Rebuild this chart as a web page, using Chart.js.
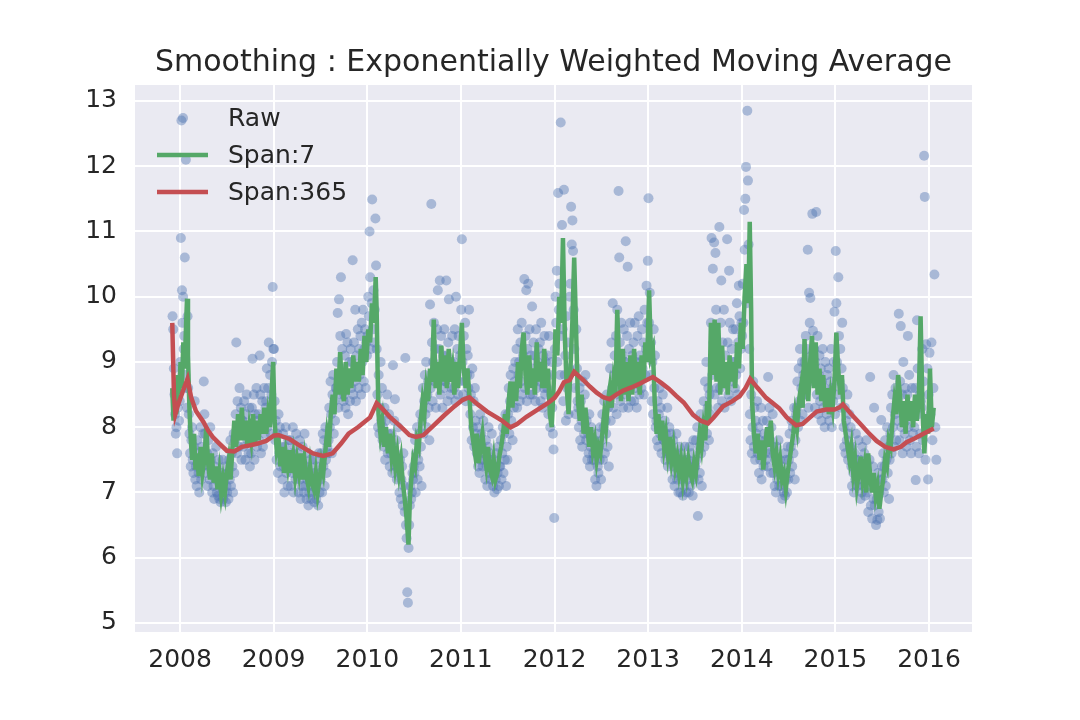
<!DOCTYPE html>
<html>
<head>
<meta charset="utf-8">
<script src="https://cdn.jsdelivr.net/npm/chart.js@4.4.1/dist/chart.umd.min.js"></script>
<style>
  html, body { margin: 0; padding: 0; background: #fff; }
  canvas { display: block; }
</style>
</head>
<body>
<canvas id="chart" width="1080" height="720"></canvas>
<script>
// Title and tick labels
const chartTitle = 'Smoothing : Exponentially Weighted Moving Average';
const xTicks = [2008, 2009, 2010, 2011, 2012, 2013, 2014, 2015, 2016];
const yTicks = [5, 6, 7, 8, 9, 10, 11, 12, 13];

const rawMonths = [
  '2007-12',
  '2008-01','2008-02','2008-03','2008-04','2008-05','2008-06','2008-07','2008-08','2008-09','2008-10','2008-11','2008-12',
  '2009-01','2009-02','2009-03','2009-04','2009-05','2009-06','2009-07','2009-08','2009-09','2009-10','2009-11','2009-12',
  '2010-01','2010-02','2010-03','2010-04','2010-05','2010-06','2010-07','2010-08','2010-09','2010-10','2010-11','2010-12',
  '2011-01','2011-02','2011-03','2011-04','2011-05','2011-06','2011-07','2011-08','2011-09','2011-10','2011-11','2011-12',
  '2012-01','2012-02','2012-03','2012-04','2012-05','2012-06','2012-07','2012-08','2012-09','2012-10','2012-11','2012-12',
  '2013-01','2013-02','2013-03','2013-04','2013-05','2013-06','2013-07','2013-08','2013-09','2013-10','2013-11','2013-12',
  '2014-01','2014-02','2014-03','2014-04','2014-05','2014-06','2014-07','2014-08','2014-09','2014-10','2014-11','2014-12',
  '2015-01','2015-02','2015-03','2015-04','2015-05','2015-06','2015-07','2015-08','2015-09','2015-10','2015-11','2015-12',
  '2016-01'
];
const rawValues = [
  [9.7, 9.5, 8.9, 8.5, 8.2, 7.9, 8.0, 7.6, 8.3, 8.7, 8.1, 8.4],
  [9.0, 10.9, 12.7, 10.1, 9.6, 10.0, 9.2, 9.4, 10.6, 8.8, 12.1, 8.6, 8.3, 9.7],
  [8.6, 8.2, 7.9, 7.6, 7.4, 7.8, 8.0, 7.5, 7.3, 7.7, 8.4, 7.2],
  [7.4, 7.1, 7.8, 7.6, 7.3, 7.0, 7.5, 8.0, 7.2, 7.7, 7.4, 7.9],
  [8.7, 8.2, 7.9, 7.5, 7.3, 7.6, 7.1, 7.8, 7.4, 7.2, 8.0, 7.5],
  [7.3, 7.0, 7.6, 7.1, 6.9, 7.4, 7.2, 7.7, 7.0, 7.3, 6.95, 7.5],
  [6.9, 7.1, 6.85, 7.3, 7.0, 7.5, 6.9, 7.2, 7.0, 7.4, 6.85, 7.1],
  [7.0, 7.3, 6.9, 7.5, 7.2, 7.8, 7.1, 7.6, 7.4, 7.0, 7.9, 7.3],
  [7.8, 8.2, 9.3, 7.6, 8.4, 8.0, 7.7, 8.6, 7.9, 8.3, 7.5, 8.1],
  [8.1, 7.7, 8.4, 7.9, 7.5, 8.2, 8.5, 7.8, 8.0, 7.6, 8.3, 7.4],
  [8.0, 7.6, 8.3, 9.05, 7.8, 8.5, 7.5, 8.2, 7.9, 8.6, 7.7, 8.1],
  [8.2, 7.8, 9.1, 8.5, 7.6, 8.0, 8.4, 7.7, 8.1, 8.6, 7.9, 8.3],
  [8.4, 8.9, 8.0, 8.6, 9.3, 8.2, 8.8, 7.9, 8.5, 9.0, 10.15, 9.2],
  [9.2, 8.4, 7.8, 8.1, 7.5, 7.9, 7.3, 8.2, 7.6, 8.0, 7.4, 7.7],
  [7.6, 7.2, 7.9, 7.4, 7.0, 7.7, 8.0, 7.3, 7.5, 7.1, 7.8, 7.4],
  [7.5, 7.8, 7.1, 7.6, 7.3, 8.0, 7.0, 7.4, 7.7, 7.2, 7.9, 7.5],
  [7.3, 7.6, 7.0, 7.8, 7.2, 6.9, 7.5, 7.1, 7.7, 7.4, 7.0, 7.9],
  [7.1, 7.4, 6.9, 7.2, 7.6, 6.8, 7.0, 7.3, 7.5, 6.9, 7.2, 7.1],
  [7.0, 7.3, 6.85, 7.5, 7.1, 6.9, 7.4, 7.2, 6.8, 7.6, 7.0, 7.3],
  [7.2, 7.6, 7.0, 7.9, 7.4, 7.8, 7.1, 8.0, 7.5, 7.3, 7.7, 7.6],
  [7.8, 8.3, 8.0, 8.7, 8.2, 7.6, 8.5, 8.8, 7.9, 8.4, 8.1, 8.6],
  [8.6, 9.0, 9.75, 8.3, 9.96, 8.8, 9.4, 10.3, 8.5, 9.2, 8.9, 8.4],
  [8.5, 9.1, 8.3, 9.43, 8.8, 9.3, 8.2, 8.7, 9.0, 8.4, 9.2, 8.6],
  [9.0, 10.56, 8.5, 9.3, 8.7, 9.8, 8.4, 9.1, 8.9, 9.5, 8.6, 9.2],
  [8.8, 9.4, 8.5, 9.6, 9.0, 9.8, 8.7, 9.2, 9.5, 8.6, 9.3, 9.1],
  [9.4, 10.0, 9.7, 11.0, 10.3, 9.2, 9.9, 11.49, 9.5, 10.1, 9.3, 9.8],
  [11.2, 10.48, 9.2, 8.5, 8.0, 8.8, 7.9, 8.3, 9.0, 8.1, 8.6, 7.8],
  [8.0, 7.7, 8.3, 7.5, 8.1, 7.8, 8.5, 7.6, 7.9, 8.2, 7.4, 7.7],
  [7.6, 7.9, 7.3, 8.95, 7.7, 8.1, 8.43, 7.4, 7.8, 7.2, 7.5, 8.0],
  [7.3, 7.0, 7.5, 6.9, 7.2, 7.4, 6.8, 7.6, 7.1, 6.7, 9.06, 6.5],
  [6.3, 5.47, 5.31, 6.15, 6.5, 6.8, 7.1, 6.9, 7.0, 7.3, 7.2, 7.4],
  [7.3, 7.8, 7.0, 7.6, 8.0, 7.2, 7.5, 7.9, 7.4, 8.2, 7.7, 7.1],
  [8.1, 8.6, 7.9, 8.4, 8.8, 8.2, 9.0, 8.0, 8.5, 8.7, 8.3, 7.8],
  [9.88, 8.6, 11.42, 9.3, 8.4, 9.0, 9.6, 8.7, 9.2, 8.3, 8.9, 9.5],
  [10.1, 8.8, 9.2, 10.25, 8.5, 9.4, 8.9, 8.3, 9.1, 8.6, 9.5, 8.7],
  [8.7, 10.25, 9.1, 8.4, 9.3, 9.96, 8.9, 8.5, 9.0, 8.6, 9.4, 8.8],
  [9.0, 8.6, 9.5, 8.4, 10.0, 8.8, 9.2, 8.5, 9.4, 8.7, 9.1, 8.9],
  [9.8, 10.88, 9.0, 8.5, 9.4, 8.7, 9.6, 8.4, 9.2, 8.8, 9.1, 8.6],
  [9.8, 8.8, 8.2, 8.5, 7.8, 8.9, 8.0, 8.4, 7.7, 8.6, 8.1, 7.9],
  [7.6, 8.0, 7.4, 7.8, 7.3, 8.2, 7.5, 7.9, 7.7, 7.4, 8.1, 7.6],
  [7.5, 7.2, 7.8, 7.4, 7.1, 7.7, 8.0, 7.3, 7.6, 7.2, 7.5, 7.9],
  [7.3, 7.1, 7.5, 7.0, 7.4, 7.2, 7.6, 7.05, 7.3, 7.7, 7.1, 7.4],
  [7.4, 7.8, 7.2, 7.6, 8.0, 7.3, 7.9, 7.5, 8.2, 7.1, 7.7, 7.5],
  [8.2, 8.6, 7.9, 8.4, 8.8, 8.1, 8.5, 7.8, 8.9, 8.3, 8.7, 9.0],
  [8.6, 9.2, 8.3, 9.5, 8.8, 9.0, 8.4, 9.3, 8.7, 9.6, 8.5, 9.1],
  [9.0, 10.27, 8.6, 9.4, 10.1, 8.4, 9.2, 10.2, 8.8, 9.5, 8.5, 9.1],
  [8.9, 9.85, 8.5, 9.3, 8.7, 9.1, 8.4, 9.5, 8.6, 9.0, 8.8, 9.2],
  [8.7, 9.3, 8.4, 9.6, 8.9, 8.3, 9.1, 8.6, 9.4, 8.5, 9.0, 8.8],
  [8.6, 9.1, 8.2, 9.4, 8.8, 8.0, 8.5, 9.0, 8.3, 7.9, 7.66, 6.61],
  [9.2, 10.0, 9.6, 10.4, 9.0, 11.59, 9.8, 10.2, 8.8, 12.67, 9.4, 11.1],
  [9.5, 8.4, 11.64, 8.8, 9.1, 8.1, 9.7, 8.6, 9.3, 8.2, 8.9, 10.0],
  [10.2, 11.38, 10.8, 11.17, 10.7, 9.8, 9.2, 8.6, 8.2, 9.5, 8.9, 8.4],
  [8.3, 8.0, 8.6, 7.8, 8.4, 8.1, 7.7, 8.7, 8.2, 7.9, 8.5, 8.8],
  [7.8, 8.1, 7.5, 7.9, 7.6, 8.2, 7.4, 7.7, 8.0, 7.5, 7.8, 7.6],
  [7.5, 7.8, 7.2, 7.6, 7.1, 7.9, 7.4, 7.3, 7.7, 7.5, 8.0, 7.2],
  [7.8, 8.2, 7.5, 8.0, 8.4, 7.6, 8.1, 7.9, 8.5, 7.7, 8.3, 7.4],
  [8.4, 8.9, 8.1, 9.3, 8.6, 9.9, 8.3, 8.8, 9.1, 8.5, 9.4, 8.2],
  [9.8, 8.8, 11.62, 10.6, 9.3, 8.4, 9.6, 8.6, 9.1, 8.3, 9.5, 9.0],
  [9.0, 10.85, 8.5, 9.4, 10.46, 8.3, 9.2, 8.7, 9.6, 8.4, 8.9, 9.1],
  [8.8, 9.3, 8.4, 9.6, 8.6, 9.0, 8.3, 9.4, 8.7, 9.7, 8.5, 9.1],
  [9.0, 8.6, 9.5, 8.9, 9.3, 8.5, 9.8, 8.8, 9.2, 10.17, 9.6, 10.55],
  [11.51, 9.6, 10.06, 8.8, 9.3, 8.4, 9.0, 8.2, 9.5, 8.6, 9.1, 8.0],
  [8.1, 7.8, 8.4, 7.7, 8.2, 8.6, 7.9, 8.3, 7.6, 8.0, 8.5, 7.8],
  [7.8, 8.1, 7.5, 7.9, 7.6, 8.3, 7.4, 7.7, 8.0, 7.6, 7.9, 7.5],
  [7.5, 7.2, 7.8, 7.4, 7.1, 7.6, 7.3, 7.9, 7.2, 7.5, 7.0, 7.7],
  [7.3, 7.0, 7.6, 7.2, 7.5, 6.95, 7.4, 7.1, 7.7, 7.3, 7.0, 7.5],
  [7.2, 7.5, 7.0, 7.7, 7.3, 7.1, 7.6, 7.4, 6.95, 7.8, 7.2, 7.4],
  [7.4, 7.8, 7.5, 8.0, 6.64, 7.2, 7.7, 7.3, 8.2, 7.6, 7.1, 7.9],
  [8.0, 8.4, 7.7, 8.7, 8.1, 9.0, 7.9, 8.3, 8.6, 7.8, 8.5, 8.2],
  [9.6, 10.9, 8.8, 10.43, 9.3, 10.83, 8.5, 10.67, 9.8, 8.6, 9.1, 8.3],
  [9.0, 11.07, 8.6, 9.6, 10.25, 8.4, 9.3, 8.8, 9.8, 8.3, 9.1, 8.7],
  [8.8, 10.88, 9.3, 8.5, 10.4, 9.6, 8.9, 8.4, 9.2, 8.7, 9.5, 9.0],
  [9.0, 8.6, 9.5, 8.8, 9.9, 8.5, 9.3, 10.17, 9.7, 8.9, 9.2, 9.6],
  [9.4, 10.2, 9.6, 11.33, 10.72, 11.5, 11.99, 9.9, 12.85, 11.78, 10.8, 9.2],
  [8.2, 7.8, 8.5, 7.6, 8.0, 8.7, 7.7, 8.3, 7.5, 8.1, 7.9, 8.4],
  [7.6, 8.0, 7.3, 7.8, 7.5, 8.3, 7.2, 7.7, 8.1, 7.4, 7.9, 7.6],
  [7.8, 7.5, 8.1, 7.4, 8.77, 7.9, 8.3, 7.6, 7.3, 8.0, 7.7, 8.2],
  [7.3, 7.6, 7.1, 7.5, 7.0, 7.7, 7.2, 7.4, 7.8, 7.1, 7.5, 7.3],
  [7.1, 7.4, 6.9, 7.3, 7.0, 7.6, 6.95, 7.2, 7.5, 7.0, 7.7, 7.2],
  [7.5, 7.9, 7.3, 7.7, 8.1, 7.4, 8.0, 7.6, 8.3, 7.2, 7.8, 8.2],
  [8.3, 8.7, 8.0, 8.9, 8.4, 9.2, 8.1, 8.6, 9.0, 8.2, 8.8, 8.5],
  [9.0, 8.5, 9.4, 8.7, 9.2, 10.72, 8.3, 10.06, 9.6, 9.98, 8.8, 9.1],
  [11.27, 9.48, 8.7, 9.2, 8.3, 9.0, 11.3, 8.5, 9.4, 8.2, 8.8, 9.1],
  [8.4, 8.9, 8.1, 8.7, 9.2, 8.3, 8.6, 8.0, 9.0, 8.5, 8.2, 8.8],
  [8.5, 8.9, 8.1, 8.3, 8.7, 9.2, 8.0, 8.6, 8.4, 9.0, 9.77, 8.2],
  [10.7, 9.9, 9.0, 8.5, 10.3, 9.4, 8.7, 9.2, 8.3, 8.9, 9.6, 8.6],
  [8.0, 7.7, 8.3, 7.6, 8.1, 7.8, 8.5, 7.5, 7.9, 8.2, 7.7, 8.0],
  [7.4, 7.1, 7.7, 7.3, 7.0, 7.6, 7.2, 7.9, 7.5, 7.1, 7.4, 7.8],
  [7.2, 7.5, 6.9, 7.4, 7.0, 7.7, 7.1, 7.3, 7.6, 6.95, 7.2, 7.8],
  [7.0, 7.3, 6.7, 7.1, 7.5, 8.77, 6.8, 7.2, 6.6, 7.4, 6.9, 8.3],
  [6.8, 7.1, 6.5, 6.9, 6.58, 7.3, 6.7, 7.0, 6.6, 7.2, 8.11, 7.4],
  [7.2, 7.6, 7.0, 7.4, 7.8, 7.1, 7.5, 8.0, 7.3, 7.7, 6.9, 7.5],
  [7.9, 8.3, 7.6, 8.5, 8.0, 8.8, 7.7, 8.2, 8.6, 7.8, 8.4, 8.1],
  [8.3, 9.74, 7.8, 8.7, 9.55, 8.0, 8.5, 7.6, 9.0, 8.2, 7.9, 8.6],
  [8.1, 7.7, 8.5, 9.4, 8.0, 8.8, 7.8, 8.3, 7.6, 8.6, 8.2, 7.9],
  [8.3, 8.0, 8.6, 7.19, 7.7, 9.64, 8.9, 8.2, 7.6, 8.5, 7.9, 8.4],
  [8.3, 9.2, 7.8, 8.7, 12.16, 11.53, 7.5, 9.27, 8.1, 8.9, 7.2, 8.5],
  [9.14, 8.2, 9.3, 7.8, 8.6, 10.34, 8.0, 7.5]
];

// Span:7 EWMA, [year, value]
const span7 = [
  [2007.917, 8.6], [2007.93, 8.1], [2007.945, 8.5], [2007.96, 8.2], [2007.975, 8.8], [2007.99, 8.5],
  [2008.005, 9.0], [2008.02, 8.6], [2008.035, 9.3], [2008.05, 8.9], [2008.065, 9.6], [2008.075, 9.97],
  [2008.085, 9.1], [2008.10, 8.3], [2008.115, 7.8], [2008.13, 7.5], [2008.15, 7.9], [2008.165, 7.35],
  [2008.18, 7.6], [2008.20, 7.25], [2008.22, 7.7], [2008.24, 7.3], [2008.26, 7.5], [2008.28, 8.0],
  [2008.30, 7.45], [2008.32, 7.2], [2008.34, 7.6], [2008.36, 7.15], [2008.38, 7.4], [2008.40, 7.05],
  [2008.42, 7.3], [2008.44, 6.98], [2008.46, 7.2], [2008.48, 7.0], [2008.50, 7.3], [2008.52, 7.5],
  [2008.54, 7.2], [2008.56, 7.7], [2008.58, 8.1], [2008.60, 7.7], [2008.62, 8.2], [2008.64, 7.8],
  [2008.66, 8.3], [2008.68, 7.8], [2008.70, 8.1], [2008.72, 7.7], [2008.74, 8.0], [2008.76, 7.8],
  [2008.78, 8.2], [2008.80, 7.75], [2008.82, 8.1], [2008.84, 7.8], [2008.86, 8.2], [2008.88, 7.9],
  [2008.90, 8.3], [2008.92, 7.9], [2008.94, 8.2], [2008.96, 8.0], [2008.98, 8.6], [2008.995, 9.0],
  [2009.01, 8.1], [2009.03, 7.7], [2009.05, 7.9], [2009.07, 7.4], [2009.09, 7.7], [2009.11, 7.3],
  [2009.13, 7.6], [2009.15, 7.4], [2009.17, 7.65], [2009.19, 7.3], [2009.21, 7.55], [2009.23, 7.25],
  [2009.25, 7.5], [2009.27, 7.3], [2009.29, 7.6], [2009.31, 7.2], [2009.33, 7.5], [2009.35, 7.25],
  [2009.37, 7.1], [2009.39, 7.4], [2009.41, 7.15], [2009.43, 7.05], [2009.45, 7.3], [2009.47, 7.0],
  [2009.49, 7.2], [2009.51, 7.45], [2009.53, 7.3], [2009.55, 7.6], [2009.57, 7.9], [2009.59, 7.7],
  [2009.61, 8.2], [2009.63, 8.5], [2009.65, 8.2], [2009.67, 8.9], [2009.69, 8.5], [2009.71, 9.15],
  [2009.73, 8.6], [2009.75, 8.4], [2009.77, 9.0], [2009.79, 8.5], [2009.81, 8.9], [2009.83, 8.6],
  [2009.85, 9.1], [2009.87, 8.7], [2009.89, 9.0], [2009.91, 8.7], [2009.93, 9.2], [2009.95, 8.8],
  [2009.97, 9.4], [2009.99, 9.0], [2010.01, 9.5], [2010.03, 9.3], [2010.05, 9.9], [2010.07, 9.6],
  [2010.09, 10.3], [2010.10, 9.8], [2010.11, 8.9], [2010.12, 8.2], [2010.14, 7.9], [2010.16, 8.1],
  [2010.18, 7.7], [2010.20, 8.0], [2010.22, 7.6], [2010.24, 7.9], [2010.26, 7.55], [2010.28, 7.75],
  [2010.30, 7.4], [2010.32, 7.6], [2010.34, 7.3], [2010.36, 7.5], [2010.38, 7.15], [2010.40, 6.9],
  [2010.42, 6.6], [2010.44, 6.2], [2010.455, 6.9], [2010.47, 7.2], [2010.49, 7.5], [2010.51, 7.4],
  [2010.53, 7.8], [2010.55, 7.7], [2010.57, 8.1], [2010.59, 8.4], [2010.61, 8.2], [2010.63, 8.6],
  [2010.65, 8.4], [2010.67, 8.9], [2010.69, 8.7], [2010.71, 9.65], [2010.73, 8.6], [2010.75, 9.0],
  [2010.77, 8.5], [2010.79, 9.25], [2010.81, 8.7], [2010.83, 9.1], [2010.85, 8.6], [2010.87, 9.2],
  [2010.89, 8.7], [2010.91, 8.9], [2010.93, 8.5], [2010.95, 9.0], [2010.97, 8.6], [2010.99, 9.1],
  [2011.01, 9.6], [2011.03, 8.9], [2011.05, 8.6], [2011.07, 8.9], [2011.09, 8.5], [2011.11, 8.0],
  [2011.13, 7.8], [2011.15, 7.6], [2011.17, 7.9], [2011.19, 7.45], [2011.21, 7.7], [2011.23, 7.9],
  [2011.25, 7.6], [2011.27, 7.4], [2011.29, 7.7], [2011.31, 7.35], [2011.33, 7.25], [2011.35, 7.5],
  [2011.37, 7.2], [2011.39, 7.3], [2011.41, 7.55], [2011.43, 7.7], [2011.45, 7.9], [2011.47, 8.2],
  [2011.49, 7.9], [2011.51, 8.4], [2011.53, 8.7], [2011.55, 8.3], [2011.57, 8.7], [2011.59, 8.4],
  [2011.61, 9.0], [2011.63, 8.6], [2011.65, 9.2], [2011.67, 9.45], [2011.69, 8.8], [2011.71, 8.5],
  [2011.73, 9.1], [2011.75, 8.6], [2011.77, 8.9], [2011.79, 8.5], [2011.81, 9.3], [2011.83, 8.7],
  [2011.85, 9.0], [2011.87, 8.6], [2011.89, 9.2], [2011.91, 8.6], [2011.93, 8.9], [2011.95, 8.2],
  [2011.97, 8.0], [2011.99, 8.6], [2012.01, 9.5], [2012.03, 9.1], [2012.05, 10.0], [2012.07, 9.6],
  [2012.09, 10.9], [2012.11, 9.4], [2012.13, 8.6], [2012.15, 8.2], [2012.17, 8.9], [2012.19, 9.6],
  [2012.21, 10.6], [2012.23, 9.5], [2012.25, 8.4], [2012.27, 8.1], [2012.29, 8.5], [2012.31, 7.9],
  [2012.33, 8.3], [2012.35, 8.0], [2012.37, 7.7], [2012.39, 8.0], [2012.41, 7.65], [2012.43, 7.8],
  [2012.45, 7.5], [2012.47, 7.7], [2012.49, 7.6], [2012.51, 7.9], [2012.53, 8.2], [2012.55, 8.0],
  [2012.57, 8.4], [2012.59, 8.6], [2012.61, 8.3], [2012.63, 8.7], [2012.65, 8.5], [2012.67, 9.8],
  [2012.69, 8.9], [2012.71, 8.4], [2012.73, 9.2], [2012.75, 8.5], [2012.77, 9.0], [2012.79, 8.4],
  [2012.81, 9.1], [2012.83, 8.5], [2012.85, 9.2], [2012.87, 8.6], [2012.89, 9.0], [2012.91, 8.5],
  [2012.93, 9.1], [2012.95, 8.7], [2012.97, 9.3], [2012.99, 9.0], [2013.01, 10.1], [2013.03, 9.1],
  [2013.05, 9.2], [2013.07, 8.4], [2013.09, 7.9], [2013.11, 8.2], [2013.13, 7.8], [2013.15, 8.1],
  [2013.17, 7.7], [2013.19, 7.9], [2013.21, 7.6], [2013.23, 7.85], [2013.25, 7.5], [2013.27, 7.7],
  [2013.29, 7.4], [2013.31, 7.55], [2013.33, 7.3], [2013.35, 7.5], [2013.37, 7.2], [2013.39, 7.45],
  [2013.41, 7.25], [2013.43, 7.5], [2013.45, 7.3], [2013.47, 7.2], [2013.49, 7.45], [2013.51, 7.3],
  [2013.53, 7.6], [2013.55, 7.9], [2013.57, 7.7], [2013.59, 8.0], [2013.61, 7.8], [2013.63, 8.4],
  [2013.65, 8.1], [2013.67, 9.6], [2013.69, 8.8], [2013.71, 9.65], [2013.73, 8.7], [2013.75, 9.6],
  [2013.77, 8.5], [2013.79, 9.25], [2013.81, 8.6], [2013.83, 9.0], [2013.85, 8.5], [2013.87, 9.1],
  [2013.89, 8.7], [2013.91, 9.0], [2013.93, 8.6], [2013.95, 9.3], [2013.97, 8.9], [2013.99, 9.6],
  [2014.01, 9.2], [2014.03, 10.0], [2014.05, 10.5], [2014.07, 9.9], [2014.085, 11.15], [2014.10, 9.8],
  [2014.11, 8.4], [2014.13, 7.9], [2014.15, 7.6], [2014.17, 7.9], [2014.19, 7.5], [2014.21, 7.8],
  [2014.23, 7.35], [2014.25, 7.7], [2014.27, 8.0], [2014.29, 7.7], [2014.31, 8.1], [2014.33, 7.6],
  [2014.35, 7.4], [2014.37, 7.6], [2014.39, 7.3], [2014.41, 7.5], [2014.43, 7.2], [2014.45, 7.3],
  [2014.47, 7.05], [2014.49, 7.3], [2014.51, 7.5], [2014.53, 7.7], [2014.55, 7.9], [2014.57, 8.2],
  [2014.59, 8.0], [2014.61, 8.4], [2014.63, 8.6], [2014.65, 8.3], [2014.67, 9.35], [2014.69, 8.7],
  [2014.71, 8.4], [2014.73, 9.0], [2014.75, 9.4], [2014.77, 8.6], [2014.79, 9.3], [2014.81, 8.5],
  [2014.83, 8.9], [2014.85, 8.4], [2014.87, 8.8], [2014.89, 8.3], [2014.91, 8.6], [2014.93, 8.2],
  [2014.95, 8.5], [2014.97, 8.3], [2014.99, 8.7], [2015.01, 9.45], [2015.03, 8.9], [2015.05, 8.5],
  [2015.07, 8.8], [2015.09, 8.1], [2015.11, 7.9], [2015.13, 7.7], [2015.15, 7.5], [2015.17, 7.7],
  [2015.19, 7.3], [2015.21, 7.5], [2015.23, 7.1], [2015.25, 7.3], [2015.27, 7.55], [2015.29, 7.2],
  [2015.31, 7.4], [2015.33, 7.0], [2015.35, 7.6], [2015.37, 7.3], [2015.39, 7.0], [2015.41, 7.3],
  [2015.43, 6.95], [2015.45, 7.1], [2015.47, 6.75], [2015.49, 7.0], [2015.51, 7.2], [2015.53, 7.5],
  [2015.55, 7.4], [2015.57, 7.8], [2015.59, 7.7], [2015.61, 8.1], [2015.63, 8.4], [2015.65, 8.2],
  [2015.67, 8.8], [2015.69, 8.5], [2015.71, 8.0], [2015.73, 8.4], [2015.75, 7.9], [2015.77, 8.5],
  [2015.79, 8.1], [2015.81, 8.4], [2015.83, 8.0], [2015.85, 8.5], [2015.87, 8.1], [2015.89, 8.4],
  [2015.91, 9.7], [2015.93, 8.3], [2015.95, 7.6], [2015.97, 8.2], [2015.99, 7.9], [2016.01, 8.9],
  [2016.03, 8.0], [2016.05, 8.3]
];

// Span:365 EWMA, [year, value]
const span365 = [
  [2007.917, 9.6], [2007.935, 8.5], [2007.95, 8.2], [2007.98, 8.35], [2008.03, 8.55], [2008.08, 8.74],
  [2008.12, 8.45], [2008.17, 8.25], [2008.25, 8.08], [2008.30, 7.95], [2008.35, 7.85], [2008.42, 7.75],
  [2008.50, 7.64], [2008.58, 7.63], [2008.66, 7.70], [2008.74, 7.72], [2008.83, 7.75], [2008.92, 7.79],
  [2009.00, 7.87], [2009.05, 7.88], [2009.17, 7.82], [2009.30, 7.70], [2009.42, 7.60], [2009.53, 7.56],
  [2009.63, 7.60], [2009.72, 7.75], [2009.80, 7.90], [2009.90, 8.00], [2010.03, 8.15], [2010.10, 8.37],
  [2010.17, 8.27], [2010.24, 8.16], [2010.31, 8.07], [2010.38, 7.98], [2010.45, 7.88], [2010.52, 7.85],
  [2010.60, 7.88], [2010.71, 8.03], [2010.82, 8.18], [2010.93, 8.32], [2011.02, 8.42], [2011.09, 8.46],
  [2011.18, 8.35], [2011.28, 8.24], [2011.36, 8.17], [2011.43, 8.11], [2011.53, 8.00], [2011.60, 8.05],
  [2011.70, 8.16], [2011.82, 8.27], [2011.92, 8.36], [2012.00, 8.45], [2012.05, 8.55], [2012.10, 8.69],
  [2012.16, 8.72], [2012.21, 8.85], [2012.31, 8.72], [2012.38, 8.62], [2012.45, 8.53], [2012.52, 8.46],
  [2012.59, 8.43], [2012.66, 8.50], [2012.73, 8.56], [2012.82, 8.61], [2012.90, 8.66], [2012.98, 8.72],
  [2013.05, 8.77], [2013.14, 8.68], [2013.22, 8.59], [2013.30, 8.48], [2013.38, 8.38], [2013.48, 8.19],
  [2013.56, 8.10], [2013.64, 8.06], [2013.70, 8.15], [2013.80, 8.32], [2013.90, 8.40], [2013.98, 8.48],
  [2014.04, 8.60], [2014.09, 8.74], [2014.17, 8.60], [2014.26, 8.45], [2014.33, 8.37], [2014.40, 8.29],
  [2014.48, 8.15], [2014.58, 8.03], [2014.65, 8.05], [2014.72, 8.14], [2014.80, 8.24], [2014.90, 8.27],
  [2014.99, 8.27], [2015.04, 8.30], [2015.08, 8.35], [2015.17, 8.20], [2015.26, 8.06], [2015.35, 7.92],
  [2015.44, 7.79], [2015.53, 7.70], [2015.62, 7.66], [2015.70, 7.70], [2015.76, 7.77], [2015.85, 7.83],
  [2015.94, 7.90], [2016.05, 7.98]
];

// Colori stile seaborn
const rawColor = 'rgba(76, 114, 176, 0.42)';
const greenColor = '#55A868';
const redColor = '#C44E52';
const textColor = '#262626';
const fontFamily = '"DejaVu Sans", sans-serif';

// 'YYYY-MM' -> anno decimale, punti distribuiti nel mese
function rawPoints() {
  const pts = [];
  rawMonths.forEach((m, i) => {
    const [y, mo] = m.split('-').map(Number);
    const start = y + (mo - 1) / 12;
    const vals = rawValues[i];
    vals.forEach((v, k) => {
      pts.push({ x: start + (k + 0.5) / vals.length / 12, y: v });
    });
  });
  return pts;
}

const toXY = arr => arr.map(p => ({ x: p[0], y: p[1] }));

// Sfondo dell'area del grafico
const plotBackground = {
  id: 'plotBackground',
  beforeDraw(chart) {
    const { ctx, chartArea: a } = chart;
    ctx.save();
    ctx.fillStyle = '#EAEAF2';
    ctx.fillRect(a.left, a.top, a.right - a.left, a.bottom - a.top);
    ctx.restore();
  }
};

// Legenda dentro il grafico, in alto a sinistra, senza cornice
const insideLegend = {
  id: 'insideLegend',
  afterDatasetsDraw(chart) {
    const { ctx, chartArea: a } = chart;
    ctx.save();
    ctx.font = '25px ' + fontFamily;
    ctx.textBaseline = 'middle';
    chart.data.datasets.forEach((ds, i) => {
      const y = a.top + 33 + i * 37;
      if (ds.showLine) {
        ctx.strokeStyle = ds.borderColor;
        ctx.lineWidth = ds.borderWidth;
        ctx.beginPath();
        ctx.moveTo(a.left + 22, y);
        ctx.lineTo(a.left + 73, y);
        ctx.stroke();
      } else {
        ctx.fillStyle = ds.backgroundColor;
        ctx.beginPath();
        ctx.arc(a.left + 48, y, ds.pointRadius, 0, Math.PI * 2);
        ctx.fill();
      }
      ctx.fillStyle = textColor;
      ctx.fillText(ds.label, a.left + 93, y + 1);
    });
    ctx.restore();
  }
};

const chart = new Chart(document.getElementById('chart'), {
  type: 'scatter',
  data: {
    datasets: [{
      label: 'Raw',
      data: rawPoints(),
      backgroundColor: rawColor,
      borderWidth: 0,
      pointRadius: 5,
      showLine: false,
      order: 3
    }, {
      label: 'Span:7',
      data: toXY(span7),
      borderColor: greenColor,
      borderWidth: 4.5,
      pointRadius: 0,
      showLine: true,
      order: 2
    }, {
      label: 'Span:365',
      data: toXY(span365),
      borderColor: redColor,
      borderWidth: 4.5,
      pointRadius: 0,
      showLine: true,
      order: 1
    }]
  },
  options: {
    responsive: false,
    animation: false,
    devicePixelRatio: 1,
    layout: { padding: { left: 0, right: 108, top: 0, bottom: 0 } },
    plugins: {
      legend: { display: false },
      tooltip: { enabled: false },
      title: {
        display: true,
        text: chartTitle,
        fullSize: false,
        color: textColor,
        font: { family: fontFamily, size: 30, weight: 'normal', lineHeight: 1.2 },
        padding: { top: 45, bottom: 4 }
      }
    },
    scales: {
      x: {
        type: 'linear',
        min: 2007.519,
        max: 2016.459,
        afterBuildTicks: s => { s.ticks = xTicks.map(v => ({ value: v })); },
        afterFit: s => { s.height = 88; },
        grid: { color: '#ffffff', lineWidth: 2, drawTicks: false },
        border: { display: false },
        ticks: {
          color: textColor,
          padding: 13,
          font: { family: fontFamily, size: 25 },
          callback: v => String(v)
        }
      },
      y: {
        min: 4.862,
        max: 13.245,
        afterBuildTicks: s => { s.ticks = yTicks.map(v => ({ value: v })); },
        afterFit: s => { s.width = 135; },
        grid: { color: '#ffffff', lineWidth: 2, drawTicks: false },
        border: { display: false },
        ticks: {
          color: textColor,
          padding: 18,
          font: { family: fontFamily, size: 25 },
          callback: v => String(v)
        }
      }
    }
  },
  plugins: [plotBackground, insideLegend]
});
</script>
</body>
</html>
